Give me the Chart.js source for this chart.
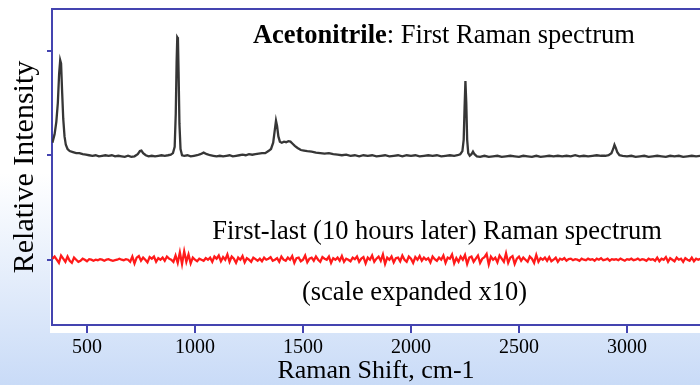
<!DOCTYPE html>
<html>
<head>
<meta charset="utf-8">
<script src="https://cdn.jsdelivr.net/npm/chart.js@4.4.1/dist/chart.umd.min.js"></script>
<style>
  html, body { margin: 0; padding: 0; background: #fff; }
  #wrap { width: 700px; height: 385px; }
</style>
</head>
<body>
<div id="wrap"><canvas id="myChart" width="700" height="385"></canvas></div>
<script>
// first spectrum [Raman shift, intensity], offset by +1 so it sits above the difference trace
const firstSpectrum = [
  [340, 1.12], [350, 1.2], [358, 1.32], [365, 1.5], [371, 1.78], [376, 1.91], [380, 1.88], [385, 1.6], [390, 1.35], [396, 1.18],
  [402, 1.1], [410, 1.06], [420, 1.04], [435, 1.03], [450, 1.02], [465, 1.02], [480, 1.01], [495, 1.005], [510, 1.0], [525, 0.995],
  [540, 1.0], [555, 0.99], [570, 0.995], [585, 1.0], [600, 0.995], [615, 1.0], [630, 0.99], [645, 0.995], [660, 0.99], [675, 0.985],
  [690, 0.995], [705, 0.985], [720, 0.99], [735, 1.01], [745, 1.04], [752, 1.045], [760, 1.02], [772, 1.0], [785, 0.99], [800, 0.995],
  [815, 0.99], [830, 0.995], [845, 1.0], [860, 0.995], [875, 1.0], [888, 1.005], [898, 1.02], [906, 1.08], [911, 1.4], [915, 1.9],
  [918, 2.13], [921, 2.12], [924, 1.8], [928, 1.3], [933, 1.06], [940, 1.0], [950, 0.995], [965, 1.0], [980, 0.99], [995, 0.995],
  [1010, 1.0], [1025, 1.01], [1040, 1.025], [1055, 1.01], [1070, 1.0], [1085, 0.995], [1100, 0.99], [1115, 0.995], [1130, 0.99], [1145, 0.995],
  [1160, 1.0], [1175, 0.99], [1190, 0.995], [1205, 1.0], [1220, 1.005], [1235, 1.0], [1250, 1.01], [1265, 1.005], [1280, 1.01], [1295, 1.015],
  [1310, 1.02], [1325, 1.02], [1340, 1.04], [1352, 1.06], [1362, 1.12], [1370, 1.25], [1375, 1.33], [1380, 1.28], [1386, 1.18], [1393, 1.13],
  [1402, 1.12], [1412, 1.13], [1422, 1.125], [1432, 1.135], [1442, 1.13], [1452, 1.11], [1462, 1.09], [1475, 1.07], [1490, 1.05], [1505, 1.045],
  [1520, 1.04], [1540, 1.035], [1560, 1.025], [1580, 1.02], [1600, 1.015], [1620, 1.02], [1640, 1.01], [1660, 1.005], [1680, 1.0], [1700, 1.005],
  [1720, 0.995], [1740, 1.0], [1760, 0.99], [1780, 1.0], [1800, 0.995], [1820, 1.0], [1840, 0.99], [1860, 0.995], [1880, 1.0], [1900, 0.99],
  [1920, 0.995], [1940, 1.0], [1960, 0.99], [1980, 1.0], [2000, 0.995], [2020, 1.0], [2040, 0.99], [2060, 0.995], [2080, 1.0], [2100, 0.995],
  [2120, 1.0], [2140, 0.99], [2160, 0.995], [2180, 1.0], [2200, 0.995], [2215, 1.0], [2228, 1.01], [2238, 1.04], [2244, 1.15], [2248, 1.45],
  [2252, 1.71], [2256, 1.5], [2260, 1.15], [2265, 1.02], [2272, 0.995], [2280, 1.01], [2287, 1.035], [2294, 1.01], [2305, 0.99], [2320, 0.985],
  [2340, 0.995], [2360, 0.985], [2380, 0.99], [2400, 0.995], [2420, 0.985], [2440, 0.99], [2460, 0.995], [2480, 0.99], [2500, 0.985], [2520, 0.995],
  [2540, 0.99], [2560, 0.985], [2580, 0.995], [2600, 0.985], [2620, 0.99], [2640, 0.995], [2660, 0.99], [2680, 0.995], [2700, 0.99], [2720, 0.995],
  [2740, 0.99], [2760, 1.0], [2780, 0.99], [2800, 0.995], [2820, 0.99], [2840, 0.995], [2860, 1.0], [2880, 0.995], [2900, 0.995], [2915, 1.0],
  [2928, 1.02], [2936, 1.06], [2942, 1.1], [2948, 1.07], [2955, 1.03], [2965, 1.0], [2980, 0.995], [3000, 0.99], [3020, 0.995], [3040, 0.985],
  [3060, 0.99], [3080, 0.995], [3100, 0.985], [3120, 0.99], [3140, 0.995], [3160, 0.99], [3180, 0.985], [3200, 0.995], [3220, 0.99], [3240, 0.995],
  [3260, 0.985], [3280, 0.99], [3300, 0.995], [3320, 0.99], [3340, 0.995]
];

// first - last difference (x10), sampled every 10 cm-1 from 340
const diffStart = 340;
const diffStep = 10;
const diffIntensity = [
  0.01, 0.03, 0.0, -0.03, 0.04, 0.01, -0.02, 0.03, -0.01, -0.03,
  0.02, 0.0, -0.02, -0.01, 0.01, 0.0, -0.015, 0.005, 0.0, -0.01,
  0.0, -0.005, 0.005, 0.0, -0.01, 0.0, 0.005, -0.005, -0.01, -0.005,
  0.0, 0.01, 0.0, -0.005, 0.005, 0.0, -0.02, 0.03, -0.035, 0.02,
  0.035, -0.01, 0.02, 0.0, -0.025, 0.025, 0.01, 0.03, -0.02, 0.015,
  0.0, 0.02, -0.01, 0.03, 0.01, 0.0, -0.02, 0.04, -0.03, 0.07,
  -0.04, 0.08, -0.02, 0.05, -0.035, 0.02, 0.0, -0.015, 0.01, 0.0,
  -0.01, 0.015, 0.0, 0.02, -0.02, 0.03, 0.01, 0.04, -0.015, 0.025,
  0.0, 0.05, -0.02, 0.03, 0.01, -0.03, 0.02, 0.0, 0.035, -0.025,
  0.015, 0.0, -0.02, 0.02, 0.005, -0.01, 0.01, -0.015, 0.02, 0.0,
  0.01, 0.025, -0.01, 0.0, 0.015, -0.02, 0.03, 0.0, -0.01, 0.02,
  0.0, 0.035, -0.03, 0.015, 0.02, -0.015, 0.0, 0.04, -0.025, 0.01,
  0.02, -0.01, 0.03, 0.0, -0.02, 0.025, 0.01, 0.0, 0.03, -0.03,
  0.015, 0.0, 0.02, -0.01, 0.035, -0.02, 0.01, 0.0, -0.015, 0.02,
  0.005, 0.03, -0.02, 0.01, 0.025, -0.035, 0.02, 0.0, 0.04, -0.02,
  0.01, 0.03, -0.01, 0.05, -0.04, 0.02, 0.0, 0.03, -0.025, 0.015,
  0.02, -0.015, 0.04, 0.0, -0.02, 0.03, 0.01, -0.03, 0.025, 0.0,
  0.035, -0.01, 0.02, 0.0, 0.015, -0.025, 0.03, 0.005, -0.01, 0.02,
  0.0, 0.04, -0.03, 0.02, 0.01, 0.05, -0.035, 0.015, -0.02, 0.03,
  0.0, 0.045, -0.04, 0.02, 0.03, -0.02, 0.01, 0.04, -0.03, 0.01,
  0.025, 0.055, -0.045, 0.03, 0.0, 0.02, -0.025, 0.04, 0.01, -0.02,
  0.06, -0.03, 0.02, 0.035, -0.04, 0.01, 0.03, -0.01, 0.02, 0.0,
  -0.02, 0.03, 0.01, -0.03, 0.045, -0.02, 0.015, 0.0, 0.02, -0.01,
  0.025, -0.015, 0.0, 0.02, -0.02, 0.01, 0.0, 0.015, -0.01, 0.005,
  0.01, -0.005, 0.005, 0.0, -0.01, 0.01, 0.0, -0.005, 0.01, 0.0,
  0.005, -0.01, 0.01, 0.0, 0.015, -0.005, 0.0, 0.01, -0.01, 0.005,
  0.0, 0.005, -0.005, 0.01, 0.0, -0.01, 0.005, 0.0, 0.01, -0.005,
  0.0, 0.01, -0.005, 0.005, 0.0, -0.01, 0.01, 0.0, 0.005, -0.01,
  0.02, -0.015, 0.01, 0.0, 0.025, -0.02, 0.015, 0.0, -0.015, 0.02,
  0.0, 0.01, -0.02, 0.015, 0.0, -0.01, 0.02, -0.015, 0.01, 0.0,
  0.01
];

const xTicks = [500, 1000, 1500, 2000, 2500, 3000];
const yTicks = [0, 1, 2];

const axisColor = "#4444b0";
const serif = "'Liberation Serif', 'Times New Roman', serif";

const firstData = firstSpectrum.map(p => ({ x: p[0], y: p[1] }));
const diffData = diffIntensity.map((v, i) => ({ x: diffStart + i * diffStep, y: v }));

// background gradient + white plot panel + top frame line
const backdrop = {
  id: "backdrop",
  beforeDraw(chart) {
    const ctx = chart.ctx;
    const a = chart.chartArea;
    ctx.save();
    const g = ctx.createLinearGradient(0, 0, 0, chart.height);
    g.addColorStop(0, "#ffffff");
    g.addColorStop(0.45, "#ffffff");
    g.addColorStop(1, "#c9dbf7");
    ctx.fillStyle = g;
    ctx.fillRect(0, 0, chart.width, chart.height);
    ctx.fillStyle = "#ffffff";
    ctx.fillRect(a.left - 2, 0, chart.width - a.left + 2, a.bottom + 8);
    ctx.restore();
  },
  afterDraw(chart) {
    const ctx = chart.ctx;
    const a = chart.chartArea;
    ctx.save();
    ctx.strokeStyle = axisColor;
    ctx.lineWidth = 2;
    ctx.beginPath();
    ctx.moveTo(a.left - 1, a.top);
    ctx.lineTo(a.right, a.top);
    ctx.stroke();
    ctx.restore();
  }
};

// text labels placed in data coordinates
const notes = [
  { parts: [["bold", "Acetonitrile"], ["normal", ": First Raman spectrum"]], x: 1268, y: 2.07 },
  { parts: [["normal", "First-last (10 hours later) Raman spectrum"]], x: 1080, y: 0.2 },
  { parts: [["normal", "(scale expanded x10)"]], x: 1495, y: -0.39 }
];

const noteLabels = {
  id: "noteLabels",
  afterDatasetsDraw(chart) {
    const ctx = chart.ctx;
    const xs = chart.scales.x;
    const ys = chart.scales.y;
    ctx.save();
    ctx.fillStyle = "#000";
    ctx.textBaseline = "alphabetic";
    ctx.textAlign = "left";
    notes.forEach(function (n) {
      let px = xs.getPixelForValue(n.x);
      const py = ys.getPixelForValue(n.y);
      n.parts.forEach(function (p) {
        ctx.font = p[0] + " 26.5px " + serif;
        ctx.fillText(p[1], px, py);
        px += ctx.measureText(p[1]).width;
      });
    });
    ctx.restore();
  }
};

const ctx = document.getElementById("myChart").getContext("2d");
new Chart(ctx, {
  type: "line",
  data: {
    datasets: [
      {
        label: "First Raman spectrum",
        data: firstData,
        borderColor: "#363636",
        borderWidth: 2.3,
        pointRadius: 0,
        tension: 0
      },
      {
        label: "First-last",
        data: diffData,
        borderColor: "#ff1a1a",
        borderWidth: 2.3,
        pointRadius: 0,
        tension: 0
      }
    ]
  },
  options: {
    responsive: false,
    animation: false,
    layout: { padding: { left: 0, right: 0, top: 9, bottom: 0 } },
    plugins: {
      legend: { display: false },
      tooltip: { enabled: false }
    },
    scales: {
      x: {
        type: "linear",
        min: 338,
        max: 3338,
        afterBuildTicks: function (scale) {
          scale.ticks = xTicks.map(v => ({ value: v }));
        },
        border: { color: axisColor, width: 2 },
        grid: { drawOnChartArea: false, color: axisColor, lineWidth: 2, tickLength: 8 },
        ticks: {
          color: "#000",
          padding: 5,
          maxRotation: 0,
          font: { family: serif, size: 20, lineHeight: 1.0 },
          callback: function (value) {
            return String(value);
          }
        },
        title: {
          display: true,
          text: "Raman Shift, cm-1",
          color: "#000",
          font: { family: serif, size: 26, lineHeight: 1.0 },
          padding: { top: -5, bottom: 1 }
        }
      },
      y: {
        type: "linear",
        min: -0.625,
        max: 2.4,
        afterBuildTicks: function (scale) {
          scale.ticks = yTicks.map(v => ({ value: v }));
        },
        border: { color: axisColor, width: 2 },
        grid: { drawOnChartArea: false, color: axisColor, lineWidth: 2, tickLength: 5 },
        ticks: { display: false },
        title: {
          display: true,
          text: "Relative Intensity",
          color: "#000",
          font: { family: serif, size: 30, lineHeight: 1.0 },
          padding: { top: 10, bottom: 7 }
        }
      }
    }
  },
  plugins: [backdrop, noteLabels]
});
</script>
</body>
</html>
